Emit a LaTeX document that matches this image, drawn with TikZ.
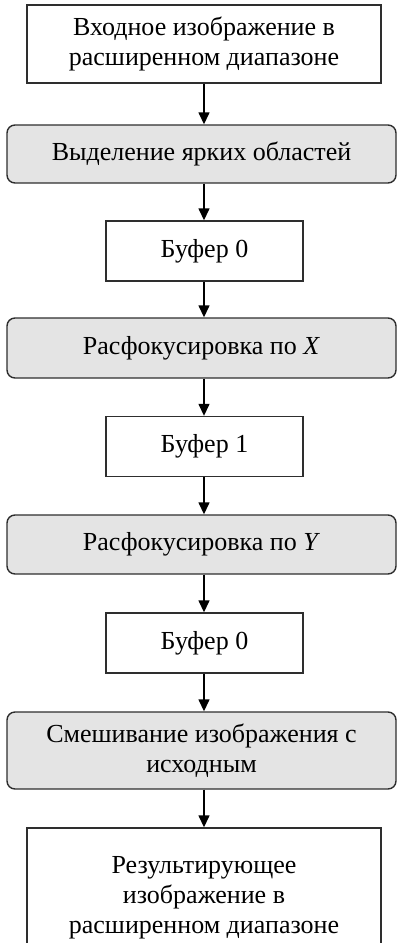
\documentclass[tikz,border=0pt]{standalone}
\usepackage{fontspec}
\setmainfont{Liberation Serif}
\definecolor{edge}{HTML}{2E2E2E}
\definecolor{stage}{HTML}{E4E4E4}
\usetikzlibrary{arrows.meta}

\begin{document}
\begin{tikzpicture}[
  x=1pt, y=-1pt,
  io/.style={draw=edge, line width=1.4pt, fill=white, align=center,
             minimum width=354pt, font=\fontsize{26}{30}\selectfont, inner sep=4pt},
  buf/.style={io, minimum width=197pt, minimum height=60pt},
  proc/.style={io, fill=stage, rounded corners=8pt, minimum width=389pt},
  arr/.style={-{Triangle[width=11pt,length=12pt]}, line width=1.4pt, draw=black},
]
\useasboundingbox (0,0) rectangle (397,943);
\coordinate (axis) at (204,0);

\node[io, minimum height=78pt] (src) at (204,44) {Входное изображение в\\расширенном диапазоне};
\node[proc, minimum height=58pt] (bright) at (201.5,154) {Выделение ярких областей};
\node[buf] (buf0) at (204.5,251) {Буфер 0};
\node[proc, minimum height=60pt] (blurx) at (201.5,348) {Расфокусировка по \textit{X}};
\node[buf] (buf1) at (204.5,446.5) {Буфер 1};
\node[proc, minimum height=59pt] (blury) at (201.5,544.5) {Расфокусировка по \textit{Y}};
\node[buf] (buf0b) at (204.5,643) {Буфер 0};
\node[proc, minimum height=77pt] (mix) at (201.5,750.5) {Смешивание изображения с\\исходным};
\node[io, minimum height=140pt] (res) at (204,898) {Результирующее\\изображение в\\расширенном диапазоне};

\foreach \a/\b in {src/bright, bright/buf0, buf0/blurx, blurx/buf1, buf1/blury,
                   blury/buf0b, buf0b/mix, mix/res}
  \draw[arr] (\a.south -| axis) -- (\b.north -| axis);
\end{tikzpicture}
\end{document}
